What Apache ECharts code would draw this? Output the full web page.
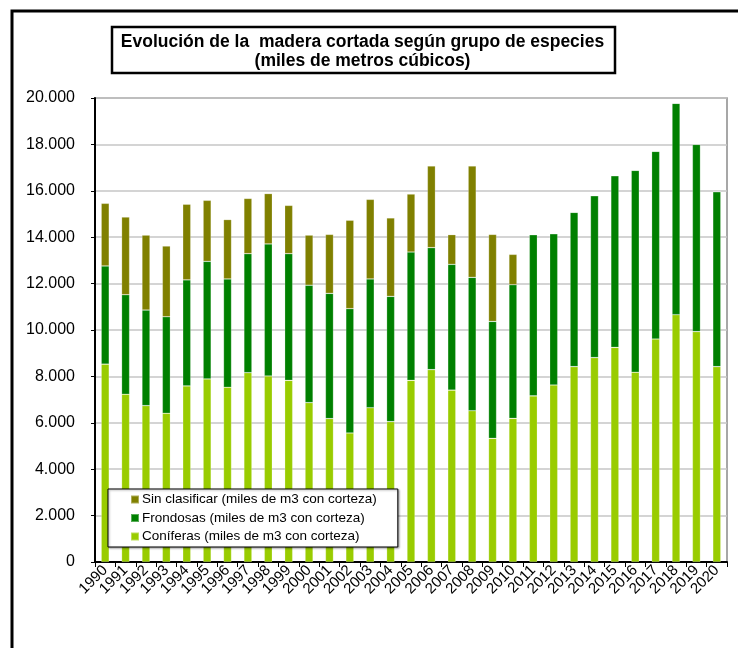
<!DOCTYPE html>
<html>
<head>
<meta charset="utf-8">
<script src="https://cdn.jsdelivr.net/npm/echarts@6/dist/echarts.min.js"></script>
<style>
  html, body { margin: 0; padding: 0; background: #fff; }
  #chart { width: 738px; height: 648px; }
</style>
</head>
<body>
<div id="chart"></div>
<script>
// Años de la serie
const years = ['1990','1991','1992','1993','1994','1995','1996','1997','1998','1999',
  '2000','2001','2002','2003','2004','2005','2006','2007','2008','2009',
  '2010','2011','2012','2013','2014','2015','2016','2017','2018','2019','2020'];

// Madera cortada (miles de m3 con corteza)
const coniferas = [8530, 7230, 6740, 6410, 7590, 7890, 7530, 8160, 8020, 7830,
  6870, 6180, 5560, 6650, 6050, 7830, 8290, 7410, 6520, 5330,
  6190, 7160, 7630, 8420, 8810, 9250, 8180, 9610, 10660, 9930, 8420];
const frondosas = [4230, 4290, 4120, 4160, 4570, 5070, 4670, 5130, 5690, 5460,
  5060, 5400, 5360, 5550, 5400, 5530, 5260, 5420, 5750, 5040,
  5760, 6950, 6520, 6650, 6980, 7400, 8700, 8090, 9110, 8070, 7540];
const sinClasificar = [2700, 3350, 3230, 3050, 3260, 2630, 2560, 2380, 2170, 2080,
  2160, 2540, 3810, 3430, 3380, 2500, 3520, 1280, 4800, 3750,
  1310, 0, 0, 0, 0, 0, 0, 0, 0, 0, 0];

const seriesNames = [
  'Sin clasificar (miles de m3 con corteza)',
  'Frondosas (miles de m3 con corteza)',
  'Coníferas (miles de m3 con corteza)'
];

const FONT = '"Liberation Sans", Arial, sans-serif';
const fmtThousands = v => String(v).replace(/\B(?=(\d{3})+(?!\d))/g, '.');

const chart = echarts.init(document.getElementById('chart'));

const barBase = {
  type: 'bar',
  stack: 'total',
  barWidth: 8,
  itemStyle: { borderColor: 'rgba(255,255,255,0.35)', borderWidth: 0.6 }
};

chart.setOption({
  animation: false,
  backgroundColor: '#fff',
  title: {
    text: 'Evolución de la  madera cortada según grupo de especies\n(miles de metros cúbicos)',
    left: 362.5,
    textAlign: 'center',
    top: 33,
    padding: 0,
    textStyle: { fontFamily: FONT, fontSize: 17.5, fontWeight: 'bold', color: '#000', lineHeight: 19 }
  },
  graphic: [
    { type: 'rect', shape: { x: 12, y: 11, width: 800, height: 700 },
      style: { fill: 'none', stroke: '#000', lineWidth: 3 }, z: 100 },
    { type: 'rect', shape: { x: 112, y: 27, width: 503, height: 46 },
      style: { fill: 'none', stroke: '#000', lineWidth: 2.5 }, z: 100 }
  ],
  legend: {
    orient: 'vertical',
    left: 108,
    top: 489,
    data: seriesNames,
    icon: 'rect',
    itemWidth: 8,
    itemHeight: 8,
    itemGap: 3.5,
    padding: [3, 21, 3, 22],
    backgroundColor: '#fff',
    borderColor: '#000',
    borderWidth: 1,
    shadowColor: 'rgba(0,0,0,0.35)',
    shadowBlur: 2,
    shadowOffsetX: 1,
    shadowOffsetY: 1,
    textStyle: { fontFamily: FONT, fontSize: 13.5, color: '#000', lineHeight: 15, padding: [0, 0, 0, -2] }
  },
  grid: {
    left: 95, right: 11, top: 98, bottom: 86,
    show: true, borderColor: '#8a8a8a', borderWidth: 1.5, backgroundColor: 'transparent'
  },
  xAxis: {
    type: 'category',
    data: years,
    boundaryGap: true,
    axisLine: { lineStyle: { color: '#000', width: 2 } },
    axisTick: { show: true, alignWithLabel: false, length: 5, lineStyle: { color: '#000', width: 1 } },
    axisLabel: { rotate: 45, margin: 6, interval: 0, fontFamily: FONT, fontSize: 15, color: '#000' },
    splitLine: { show: false }
  },
  yAxis: {
    type: 'value',
    min: 0,
    max: 20000,
    interval: 2000,
    axisLine: { show: true, lineStyle: { color: '#000', width: 2 } },
    axisTick: { show: true, length: 4, lineStyle: { color: '#000', width: 1 } },
    axisLabel: { margin: 20, fontFamily: FONT, fontSize: 16, color: '#000', formatter: fmtThousands },
    splitLine: { lineStyle: { color: '#c6c6c6', width: 1.5 } }
  },
  series: [
    Object.assign({}, barBase, { name: seriesNames[2], data: coniferas, itemStyle: Object.assign({}, barBase.itemStyle, { color: '#99cc00' }) }),
    Object.assign({}, barBase, { name: seriesNames[1], data: frondosas, itemStyle: Object.assign({}, barBase.itemStyle, { color: '#008000' }) }),
    Object.assign({}, barBase, { name: seriesNames[0], data: sinClasificar, itemStyle: Object.assign({}, barBase.itemStyle, { color: '#808000' }) })
  ]
});
</script>
</body>
</html>
